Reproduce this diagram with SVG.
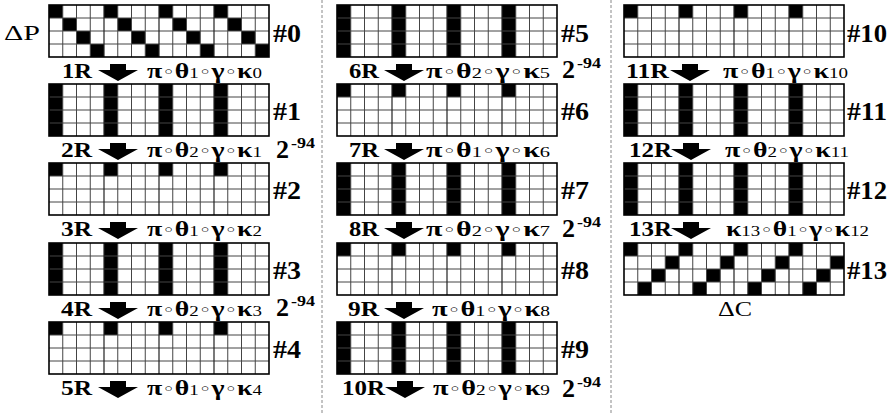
<svg xmlns="http://www.w3.org/2000/svg" xmlns:xlink="http://www.w3.org/1999/xlink" width="896" height="413" viewBox="0 0 896 413">
<style>
text{font-family:"Liberation Serif","Times New Roman",serif;fill:#000}
.h{font-size:26px;font-weight:bold}
.r{font-size:21px;font-weight:bold}
.f{font-size:22px;font-weight:bold}
.s{font-size:15px;font-weight:normal}
.o{font-size:17px;font-weight:normal;font-family:"DejaVu Sans","Liberation Serif",sans-serif}
.p{font-size:26px;font-weight:bold}
.e{font-size:15px;font-weight:bold}
.d{font-size:22px;font-weight:normal}
.sep{stroke:#888;stroke-width:1;stroke-dasharray:3 2;fill:none}
</style>
<defs>
<g id="grid">
<path d="M13.75 0V52M27.5 0V52M41.25 0V52M68.75 0V52M82.5 0V52M96.25 0V52M123.75 0V52M137.5 0V52M151.25 0V52M178.75 0V52M192.5 0V52M206.25 0V52M0 13H220M0 26H220M0 39H220" stroke="#444" stroke-width="1" fill="none"/>
<path d="M55 0V52M110 0V52M165 0V52" stroke="#222" stroke-width="1.2" fill="none"/>
<rect x="0" y="0" width="220" height="52" fill="none" stroke="#000" stroke-width="1.6"/>
</g>
<g id="cols">
<rect x="0" y="0" width="13.75" height="52"/><rect x="55" y="0" width="13.75" height="52"/><rect x="110" y="0" width="13.75" height="52"/><rect x="165" y="0" width="13.75" height="52"/>
</g>
<g id="top">
<rect x="0" y="0" width="13.75" height="13"/><rect x="55" y="0" width="13.75" height="13"/><rect x="110" y="0" width="13.75" height="13"/><rect x="165" y="0" width="13.75" height="13"/>
</g>
<g id="diagP">
<use href="#top"/><use href="#top" x="13.75" y="13"/><use href="#top" x="27.5" y="26"/><use href="#top" x="41.25" y="39"/>
</g>
<g id="diagC">
<use href="#top"/><use href="#top" x="41.25" y="13"/><use href="#top" x="27.5" y="26"/><use href="#top" x="13.75" y="39"/>
</g>
<path id="arr" d="M-8 0H8V6H20L0 17L-20 6H-8Z" fill="#000"/>
</defs>
<rect width="896" height="413" fill="#fff"/>
<g id="separators">
<line class="sep" x1="322" y1="0" x2="322" y2="413"/>
<line class="sep" x1="611" y1="0" x2="611" y2="413"/>
</g>
<text class="d" x="4" y="40" textLength="36" lengthAdjust="spacingAndGlyphs">ΔP</text>
<text class="d" x="718" y="316" textLength="34" lengthAdjust="spacingAndGlyphs">ΔC</text>
<g id="n0" transform="translate(49,5)"><use href="#diagP"/><use href="#grid"/><text class="h" x="224" y="37" textLength="28" lengthAdjust="spacingAndGlyphs">#0</text></g>
<g id="n1" transform="translate(49,84)"><use href="#cols"/><use href="#grid"/><text class="h" x="224" y="36" textLength="28" lengthAdjust="spacingAndGlyphs">#1</text></g>
<g id="n2" transform="translate(49,163)"><use href="#top"/><use href="#grid"/><text class="h" x="224" y="36" textLength="28" lengthAdjust="spacingAndGlyphs">#2</text></g>
<g id="n3" transform="translate(49,243)"><use href="#cols"/><use href="#grid"/><text class="h" x="224" y="36" textLength="28" lengthAdjust="spacingAndGlyphs">#3</text></g>
<g id="n4" transform="translate(49,322)"><use href="#top"/><use href="#grid"/><text class="h" x="224" y="36" textLength="28" lengthAdjust="spacingAndGlyphs">#4</text></g>
<g id="n5" transform="translate(337,5)"><use href="#cols"/><use href="#grid"/><text class="h" x="224" y="37" textLength="28" lengthAdjust="spacingAndGlyphs">#5</text></g>
<g id="n6" transform="translate(337,84)"><use href="#top"/><use href="#grid"/><text class="h" x="224" y="36" textLength="28" lengthAdjust="spacingAndGlyphs">#6</text></g>
<g id="n7" transform="translate(337,163)"><use href="#cols"/><use href="#grid"/><text class="h" x="224" y="36" textLength="28" lengthAdjust="spacingAndGlyphs">#7</text></g>
<g id="n8" transform="translate(337,243)"><use href="#top"/><use href="#grid"/><text class="h" x="224" y="36" textLength="28" lengthAdjust="spacingAndGlyphs">#8</text></g>
<g id="n9" transform="translate(337,322)"><use href="#cols"/><use href="#grid"/><text class="h" x="224" y="36" textLength="28" lengthAdjust="spacingAndGlyphs">#9</text></g>
<g id="n10" transform="translate(624,5)"><use href="#top"/><use href="#grid"/><text class="h" x="223" y="37" textLength="40" lengthAdjust="spacingAndGlyphs">#10</text></g>
<g id="n11" transform="translate(624,84)"><use href="#cols"/><use href="#grid"/><text class="h" x="223" y="36" textLength="40" lengthAdjust="spacingAndGlyphs">#11</text></g>
<g id="n12" transform="translate(624,163)"><use href="#cols"/><use href="#grid"/><text class="h" x="223" y="36" textLength="40" lengthAdjust="spacingAndGlyphs">#12</text></g>
<g id="n13" transform="translate(624,243)"><use href="#diagC"/><use href="#grid"/><text class="h" x="223" y="36" textLength="40" lengthAdjust="spacingAndGlyphs">#13</text></g>
<g id="connectors">
<g transform="translate(0,57)"><text class="r" x="62" y="21" textLength="30" lengthAdjust="spacingAndGlyphs">1R</text><use href="#arr" x="118" y="7"/><text class="f" x="147" y="21" textLength="115" lengthAdjust="spacingAndGlyphs">π<tspan class="o">◦</tspan>θ<tspan class="s">1</tspan><tspan class="o">◦</tspan>γ<tspan class="o">◦</tspan>κ<tspan class="s">0</tspan></text></g>
<g transform="translate(0,136)"><text class="r" x="61" y="21" textLength="31" lengthAdjust="spacingAndGlyphs">2R</text><use href="#arr" x="118" y="7"/><text class="f" x="147" y="21" textLength="115" lengthAdjust="spacingAndGlyphs">π<tspan class="o">◦</tspan>θ<tspan class="s">2</tspan><tspan class="o">◦</tspan>γ<tspan class="o">◦</tspan>κ<tspan class="s">1</tspan></text></g>
<g transform="translate(0,215)"><text class="r" x="61" y="21" textLength="31" lengthAdjust="spacingAndGlyphs">3R</text><use href="#arr" x="118" y="7"/><text class="f" x="147" y="21" textLength="115" lengthAdjust="spacingAndGlyphs">π<tspan class="o">◦</tspan>θ<tspan class="s">1</tspan><tspan class="o">◦</tspan>γ<tspan class="o">◦</tspan>κ<tspan class="s">2</tspan></text></g>
<g transform="translate(0,295)"><text class="r" x="61" y="21" textLength="31" lengthAdjust="spacingAndGlyphs">4R</text><use href="#arr" x="118" y="7"/><text class="f" x="147" y="21" textLength="115" lengthAdjust="spacingAndGlyphs">π<tspan class="o">◦</tspan>θ<tspan class="s">2</tspan><tspan class="o">◦</tspan>γ<tspan class="o">◦</tspan>κ<tspan class="s">3</tspan></text></g>
<g transform="translate(0,374)"><text class="r" x="61" y="21" textLength="31" lengthAdjust="spacingAndGlyphs">5R</text><use href="#arr" x="118" y="7"/><text class="f" x="147" y="21" textLength="115" lengthAdjust="spacingAndGlyphs">π<tspan class="o">◦</tspan>θ<tspan class="s">1</tspan><tspan class="o">◦</tspan>γ<tspan class="o">◦</tspan>κ<tspan class="s">4</tspan></text></g>
<g transform="translate(0,57)"><text class="r" x="349" y="21" textLength="30" lengthAdjust="spacingAndGlyphs">6R</text><use href="#arr" x="404" y="7"/><text class="f" x="426" y="21" textLength="124" lengthAdjust="spacingAndGlyphs">π<tspan class="o">◦</tspan>θ<tspan class="s">2</tspan><tspan class="o">◦</tspan>γ<tspan class="o">◦</tspan>κ<tspan class="s">5</tspan></text></g>
<g transform="translate(0,136)"><text class="r" x="349" y="21" textLength="30" lengthAdjust="spacingAndGlyphs">7R</text><use href="#arr" x="404" y="7"/><text class="f" x="426" y="21" textLength="124" lengthAdjust="spacingAndGlyphs">π<tspan class="o">◦</tspan>θ<tspan class="s">1</tspan><tspan class="o">◦</tspan>γ<tspan class="o">◦</tspan>κ<tspan class="s">6</tspan></text></g>
<g transform="translate(0,215)"><text class="r" x="349" y="21" textLength="30" lengthAdjust="spacingAndGlyphs">8R</text><use href="#arr" x="404" y="7"/><text class="f" x="426" y="21" textLength="124" lengthAdjust="spacingAndGlyphs">π<tspan class="o">◦</tspan>θ<tspan class="s">2</tspan><tspan class="o">◦</tspan>γ<tspan class="o">◦</tspan>κ<tspan class="s">7</tspan></text></g>
<g transform="translate(0,295)"><text class="r" x="348" y="21" textLength="31" lengthAdjust="spacingAndGlyphs">9R</text><use href="#arr" x="404" y="7"/><text class="f" x="432" y="21" textLength="118" lengthAdjust="spacingAndGlyphs">π<tspan class="o">◦</tspan>θ<tspan class="s">1</tspan><tspan class="o">◦</tspan>γ<tspan class="o">◦</tspan>κ<tspan class="s">8</tspan></text></g>
<g transform="translate(0,374)"><text class="r" x="342" y="21" textLength="43" lengthAdjust="spacingAndGlyphs">10R</text><use href="#arr" x="405" y="7"/><text class="f" x="433" y="21" textLength="117" lengthAdjust="spacingAndGlyphs">π<tspan class="o">◦</tspan>θ<tspan class="s">2</tspan><tspan class="o">◦</tspan>γ<tspan class="o">◦</tspan>κ<tspan class="s">9</tspan></text></g>
<g transform="translate(0,57)"><text class="r" x="626" y="21" textLength="43" lengthAdjust="spacingAndGlyphs">11R</text><use href="#arr" x="690" y="7"/><text class="f" x="723" y="21" textLength="125" lengthAdjust="spacingAndGlyphs">π<tspan class="o">◦</tspan>θ<tspan class="s">1</tspan><tspan class="o">◦</tspan>γ<tspan class="o">◦</tspan>κ<tspan class="s">10</tspan></text></g>
<g transform="translate(0,136)"><text class="r" x="629" y="21" textLength="43" lengthAdjust="spacingAndGlyphs">12R</text><use href="#arr" x="691" y="7"/><text class="f" x="725" y="21" textLength="124" lengthAdjust="spacingAndGlyphs">π<tspan class="o">◦</tspan>θ<tspan class="s">2</tspan><tspan class="o">◦</tspan>γ<tspan class="o">◦</tspan>κ<tspan class="s">11</tspan></text></g>
<g transform="translate(0,215)"><text class="r" x="629" y="21" textLength="43" lengthAdjust="spacingAndGlyphs">13R</text><use href="#arr" x="691" y="7"/><text class="f" x="726" y="21" textLength="143" lengthAdjust="spacingAndGlyphs">κ<tspan class="s">13</tspan><tspan class="o">◦</tspan>θ<tspan class="s">1</tspan><tspan class="o">◦</tspan>γ<tspan class="o">◦</tspan>κ<tspan class="s">12</tspan></text></g>
</g>
<g id="probs">
<text class="p" x="276" y="158">2</text><text class="e" x="291" y="148" textLength="24" lengthAdjust="spacingAndGlyphs">-94</text>
<text class="p" x="276" y="316">2</text><text class="e" x="291" y="306" textLength="24" lengthAdjust="spacingAndGlyphs">-94</text>
<text class="p" x="562" y="78">2</text><text class="e" x="577" y="68" textLength="24" lengthAdjust="spacingAndGlyphs">-94</text>
<text class="p" x="562" y="237">2</text><text class="e" x="577" y="227" textLength="24" lengthAdjust="spacingAndGlyphs">-94</text>
<text class="p" x="562" y="397">2</text><text class="e" x="577" y="387" textLength="24" lengthAdjust="spacingAndGlyphs">-94</text>
</g>
</svg>
